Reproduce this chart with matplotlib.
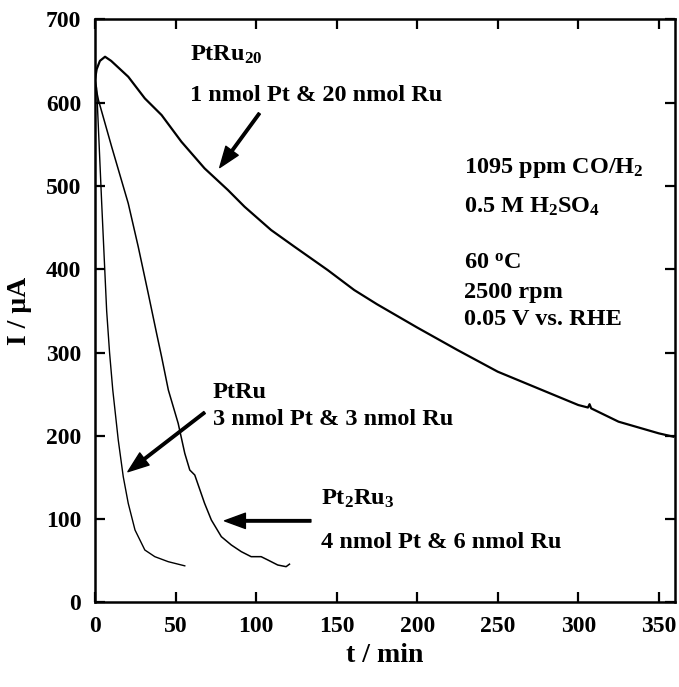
import matplotlib
matplotlib.use("Agg")
import matplotlib.pyplot as plt

plt.rcParams['font.family'] = ['Liberation Serif', 'DejaVu Serif']
plt.rcParams['font.weight'] = 'bold'
plt.rcParams['mathtext.default'] = 'regular'

# PtRu20 : 1 nmol Pt & 20 nmol Ru
t_ptru20 = [0, 1, 3, 6.2, 10, 20.6, 30.9, 41.3, 53.6, 68, 82.5, 92.8, 109.3, 123.8,
            144.4, 160.9, 175, 200, 225, 250, 275, 300, 306, 307, 308, 325, 350, 359]
i_ptru20 = [628, 640, 650, 655, 650, 631, 605, 585, 553, 521, 495, 475, 447, 427,
            399, 375, 358, 330, 303, 277, 257, 237, 234, 238, 233, 217, 203, 199]

# PtRu : 3 nmol Pt & 3 nmol Ru
t_ptru = [0, 1, 4.1, 7.2, 9, 11, 14.4, 17.5, 20.6, 24.8, 30.9, 37.1, 45.4, 55.7]
i_ptru = [628, 617, 480, 350, 300, 255, 195, 151, 119, 87, 63, 55, 49, 44]

# Pt2Ru3 : 4 nmol Pt & 6 nmol Ru
t_pt2ru3 = [0, 2.1, 10.3, 20.6, 26.8, 33, 38.2, 41.3, 45.5, 51.6, 55.7, 58.8, 61.9,
            68, 72.2, 78.4, 84.6, 90.8, 96.9, 103.1, 107.3, 113.4, 118.6, 120.7]
i_pt2ru3 = [623, 603, 547, 479, 427, 371, 323, 295, 255, 215, 179, 159, 153,
            119, 99, 79, 69, 61, 55, 55, 51, 45, 43, 46]

fig = plt.figure(figsize=(6.79, 6.87), dpi=100)
ax = fig.add_axes([0.140, 0.123, 0.854, 0.849])

ax.plot(t_ptru20, i_ptru20, color='black', lw=1.6)
ax.plot(t_ptru, i_ptru, color='black', lw=1.0)
ax.plot(t_pt2ru3, i_pt2ru3, color='black', lw=1.1)

ax.set_xlim(0, 360)
ax.set_ylim(0, 700)
ax.set_xticks(range(0, 351, 50))
ax.set_yticks(range(0, 701, 100))
ax.tick_params(direction='in', length=7, width=1.6, top=True, right=True,
               labelsize=17, pad=10)
for s in ax.spines.values():
    s.set_linewidth(1.8)

ax.set_xlabel('t / min', fontsize=20, fontweight='bold', labelpad=4)
ax.set_ylabel('I / \u03bcA', fontsize=20, fontweight='bold', labelpad=10)

fs = 17.5
ax.text(58.8, 650, 'PtRu$_{20}$', fontsize=fs, fontweight='bold', va='baseline')
ax.text(58.8, 602, '1 nmol Pt & 20 nmol Ru', fontsize=fs, fontweight='bold', va='baseline')
ax.text(73, 246, 'PtRu', fontsize=fs, fontweight='bold', va='baseline')
ax.text(73, 213, '3 nmol Pt & 3 nmol Ru', fontsize=fs, fontweight='bold', va='baseline')
ax.text(140.5, 117, 'Pt$_{2}$Ru$_{3}$', fontsize=fs, fontweight='bold', va='baseline')
ax.text(140.5, 66, '4 nmol Pt & 6 nmol Ru', fontsize=fs, fontweight='bold', va='baseline')

ax.text(229, 515, '1095 ppm CO/H$_{2}$', fontsize=fs, fontweight='bold', va='baseline')
ax.text(229, 468, '0.5 M H$_{2}$SO$_{4}$', fontsize=fs, fontweight='bold', va='baseline')
ax.text(229, 401, '60 $^{o}$C', fontsize=fs, fontweight='bold', va='baseline')
ax.text(229, 366, '2500 rpm', fontsize=fs, fontweight='bold', va='baseline')
ax.text(229, 333, '0.05 V vs. RHE', fontsize=fs, fontweight='bold', va='baseline')

arrow = dict(facecolor='black', edgecolor='black', width=1.8, headwidth=11, headlength=15)
ax.annotate('', xy=(77.4, 522), xytext=(102, 587), arrowprops=arrow)
ax.annotate('', xy=(20.4, 157), xytext=(68, 228), arrowprops=arrow)
ax.annotate('', xy=(80.4, 98), xytext=(134, 98), arrowprops=arrow)

fig.savefig('out.png', dpi=100)
